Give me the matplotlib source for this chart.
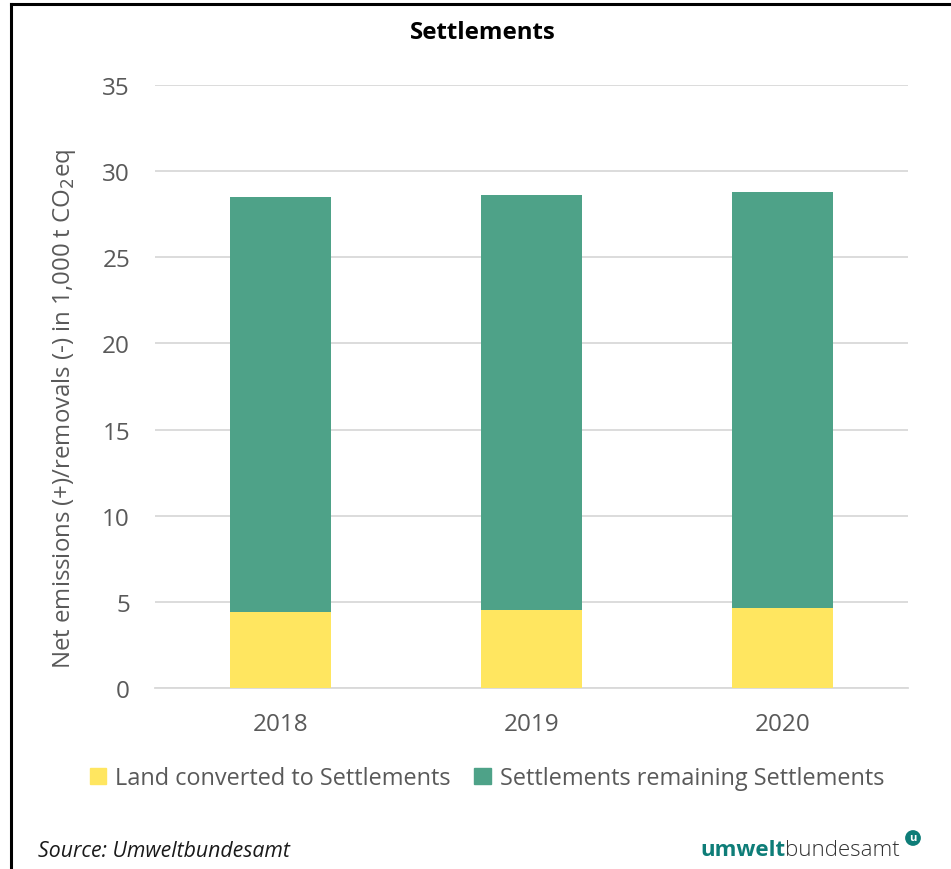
import matplotlib.pyplot as plt
from matplotlib.lines import Line2D
from matplotlib.patches import Patch
import numpy as np

plt.rcParams["font.family"] = ["Open Sans", "DejaVu Sans"]

years = ["2018", "2019", "2020"]
land_converted = [4.39, 4.53, 4.64]
remaining = [24.09, 24.08, 24.13]

YELLOW = "#FFE660"
GREEN = "#4EA288"
TEXT = "#595959"
TEAL = "#0E7D78"

fig = plt.figure(figsize=(9.51, 8.70), dpi=100)
ax = fig.add_axes([155 / 951, 1 - 689 / 870, 753 / 951, 603 / 870])

x = np.arange(len(years))
ax.bar(x, land_converted, width=0.40, color=YELLOW, zorder=3,
       label="Land converted to Settlements")
ax.bar(x, remaining, width=0.40, bottom=land_converted, color=GREEN, zorder=3,
       label="Settlements remaining Settlements")

ax.set_xlim(-0.5, 2.5)
ax.set_ylim(0, 35)
ax.set_yticks(range(0, 36, 5))
ax.set_xticks(x)
ax.set_xticklabels(years)
ax.yaxis.grid(True, color="#d9d9d9", linewidth=1.3, zorder=0)
ax.tick_params(axis="both", length=0, colors=TEXT, labelsize=17.5)
ax.tick_params(axis="y", pad=18)
ax.tick_params(axis="x", pad=17)
for side in ["top", "right", "left"]:
    ax.spines[side].set_visible(False)
ax.spines["bottom"].set_color("#d9d9d9")
ax.spines["bottom"].set_linewidth(1.3)

ax.set_ylabel(r"Net emissions (+)/removals (-) in 1,000 t CO$_2$eq",
              fontsize=17.3, color=TEXT)
ax.yaxis.set_label_coords(-77 / 753, 280 / 603)

fig.text(483 / 951, 1 - 33 / 870, "Settlements", ha="center", va="center",
         fontsize=17.3, fontweight="bold", color="black")

handles = [Patch(color=YELLOW, label="Land converted to Settlements"),
           Patch(color=GREEN, label="Settlements remaining Settlements")]
fig.legend(handles=handles, loc="center", bbox_to_anchor=(487 / 951, 1 - 779 / 870),
           ncol=2, frameon=False, fontsize=16.9, labelcolor=TEXT,
           handlelength=0.7, handleheight=0.7, handletextpad=0.4, columnspacing=1.0)

fig.text(38 / 951, 1 - 852 / 870, "Source: Umweltbundesamt", ha="left", va="center",
         fontsize=15.3, style="italic", color="#1a1a1a")

# logo text
t1 = fig.text(700 / 951, 1 - 851 / 870, "umwelt", ha="left", va="center",
              fontsize=16, fontweight="bold", color=TEAL)
fig.canvas.draw()
bb = t1.get_window_extent()
fig.text(bb.x1 / 951, 1 - 851 / 870, "bundesamt", ha="left", va="center",
         fontsize=16, fontweight="light", color="#333333")
fig.text(913 / 951, 1 - 839 / 870, "u", ha="center", va="center", fontsize=8,
         fontweight="bold", color="white",
         bbox=dict(boxstyle="circle,pad=0.15", fc=TEAL, ec=TEAL))

# frame lines along the top and left
fig.add_artist(Line2D([11 / 951, 1], [1 - 5 / 870, 1 - 5 / 870], color="black", linewidth=2.2))
fig.add_artist(Line2D([11 / 951, 11 / 951], [0, 1 - 5 / 870], color="black", linewidth=2.2))

fig.savefig("out.png", dpi=100)
